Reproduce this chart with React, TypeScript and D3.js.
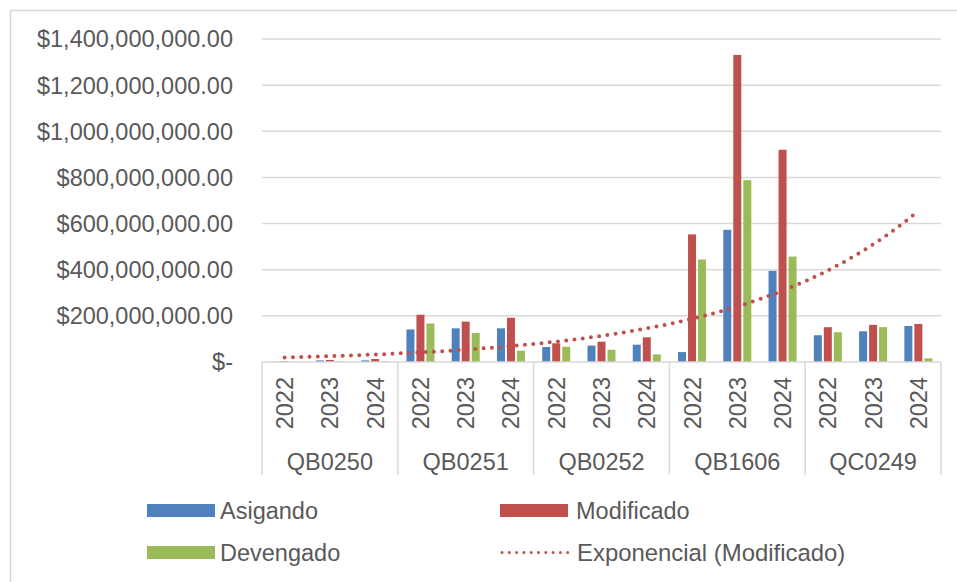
import React from "react";
import * as d3 from "d3";

const groups = ["QB0250", "QB0251", "QB0252", "QB1606", "QC0249"];
const years = ["2022", "2023", "2024"];
const seriesNames = ["Asigando", "Modificado", "Devengado"];
const seriesColors = ["#4f81bd", "#c0504d", "#9bbb59"];

// values in pesos, order: group-major, year-minor
const asignado = [1.5e6, 7e6, 7e6, 141e6, 146e6, 146e6, 65e6, 71e6, 75e6, 43e6, 573e6, 395e6, 116e6, 133e6, 156e6];
const modificado = [4e6, 9e6, 13e6, 205e6, 175e6, 192e6, 81e6, 88e6, 107e6, 553e6, 1331e6, 920e6, 151e6, 161e6, 165e6];
const devengado = [1e6, 3e6, 4e6, 167e6, 126e6, 49e6, 66e6, 53e6, 33e6, 444e6, 788e6, 457e6, 129e6, 151e6, 16e6];

const yTicks = [0, 200e6, 400e6, 600e6, 800e6, 1000e6, 1200e6, 1400e6];
const trendLabel = "Exponencial (Modificado)";

const W = 957;
const H = 582;
const left = 262;
const right = 941;
const top = 39;
const bottom = 362;
const textColor = "#595959";
const font = "'Liberation Sans', Arial, sans-serif";
const fs = 23.5;

function fmt(v: number) {
  if (v === 0) return "$-";
  return "$" + d3.format(",.2f")(v);
}

export default function App() {
  const cats = groups.flatMap((g) => years.map((y) => g + "|" + y));
  const x = d3.scaleBand<string>().domain(cats).range([left, right]).padding(0);
  const y = d3.scaleLinear().domain([0, 1400e6]).range([bottom, top]);
  const data = [asignado, modificado, devengado];
  const slot = x.bandwidth();

  // exponential trendline fit (Excel style: ln y = ln a + b x, x = 1..n)
  const n = modificado.length;
  const xs = d3.range(1, n + 1);
  const ls = modificado.map((v) => Math.log(v));
  const mx = d3.mean(xs)!;
  const ml = d3.mean(ls)!;
  let sxy = 0,
    sxx = 0;
  xs.forEach((xi, i) => {
    sxy += (xi - mx) * (ls[i] - ml);
    sxx += (xi - mx) * (xi - mx);
  });
  const b = sxy / sxx;
  const lna = ml - b * mx;
  const trendPts: [number, number][] = d3.range(0, 141).map((k) => {
    const xi = 1 + (k / 140) * (n - 1);
    const px = x(cats[0])! + slot / 2 + (xi - 1) * slot;
    return [px, y(Math.exp(lna + b * xi))];
  });
  const line = d3.line();

  const groupW = slot * years.length;

  return (
    <svg
      width={W}
      height={H}
      style={{ position: "absolute", left: 0, top: 0, background: "#fff" }}
      fontFamily={font}
    >
      <rect x={10.5} y={10.5} width={W + 20} height={H + 20} fill="#fff" stroke="#d9d9d9" strokeWidth={1.5} />
      {/* gridlines */}
      {yTicks.map((t) => (
        <g key={t}>
          {t > 0 && (
            <line x1={left} x2={right} y1={y(t)} y2={y(t)} stroke="#d9d9d9" strokeWidth={1.5} />
          )}
          <text
            x={233}
            y={y(t)}
            dy="0.36em"
            textAnchor="end"
            fontSize={fs}
            fill={textColor}
          >
            {fmt(t)}
          </text>
        </g>
      ))}
      {/* bars */}
      {cats.map((c, i) => {
        const cx = x(c)! + slot / 2;
        const inner = d3
          .scaleBand<number>()
          .domain([0, 1, 2])
          .range([cx - 15, cx + 15])
          .paddingInner(0.2)
          .paddingOuter(0.1);
        return (
          <g key={c}>
            {data.map((s, si) => (
              <rect
                key={si}
                x={inner(si)}
                y={y(s[i])}
                width={inner.bandwidth()}
                height={bottom - y(s[i])}
                fill={seriesColors[si]}
              />
            ))}
          </g>
        );
      })}
      {/* category axis */}
      <line x1={left} x2={right} y1={bottom} y2={bottom} stroke="#d9d9d9" strokeWidth={1.5} />
      {groups.map((g, gi) => (
        <line
          key={g}
          x1={left + gi * groupW}
          x2={left + gi * groupW}
          y1={bottom}
          y2={475}
          stroke="#d9d9d9"
          strokeWidth={1.5}
        />
      ))}
      <line x1={right} x2={right} y1={bottom} y2={475} stroke="#d9d9d9" strokeWidth={1.5} />
      {cats.map((c) => {
        const cx = x(c)! + slot / 2;
        return (
          <text
            key={c}
            transform={`translate(${cx},377) rotate(-90)`}
            dy="0.36em"
            textAnchor="end"
            fontSize={fs}
            fill={textColor}
          >
            {c.split("|")[1]}
          </text>
        );
      })}
      {groups.map((g, gi) => (
        <text
          key={g}
          x={left + gi * groupW + groupW / 2}
          y={462}
          dy="0.36em"
          textAnchor="middle"
          fontSize={fs}
          fill={textColor}
        >
          {g}
        </text>
      ))}
      {/* trendline */}
      <path
        d={line(trendPts) || ""}
        fill="none"
        stroke="#c0504d"
        strokeWidth={4}
        strokeLinecap="round"
        strokeDasharray="0 8.3"
      />
      {/* legend */}
      {[
        { name: seriesNames[0], color: seriesColors[0], lx: 147, ly: 510.5, kind: "box", tx: 73 },
        { name: seriesNames[1], color: seriesColors[1], lx: 500, ly: 510.5, kind: "box", tx: 76 },
        { name: seriesNames[2], color: seriesColors[2], lx: 147, ly: 552.5, kind: "box", tx: 73 },
        { name: trendLabel, color: seriesColors[1], lx: 500, ly: 552.5, kind: "line", tx: 77 },
      ].map((it) => (
        <g key={it.name}>
          {it.kind === "box" ? (
            <rect x={it.lx} y={it.ly - 6.5} width={68} height={13} fill={it.color} />
          ) : (
            <line
              x1={it.lx + 2}
              x2={it.lx + 68}
              y1={it.ly}
              y2={it.ly}
              stroke={it.color}
              strokeWidth={3}
              strokeLinecap="round"
              strokeDasharray="0 7.3"
            />
          )}
          <text
            x={it.lx + it.tx}
            y={it.ly}
            dy="0.36em"
            fontSize={it.kind === "line" ? 23.9 : fs}
            fill={textColor}
          >
            {it.name}
          </text>
        </g>
      ))}
    </svg>
  );
}
